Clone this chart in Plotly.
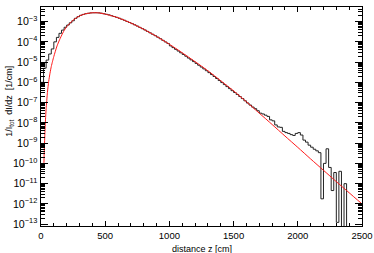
import plotly.graph_objects as go

# ---- data ----
# histogram: 20 cm bins, lower edges from 0 cm
bin_width = 20
hist_values = [
    1.00e-6, 5.01e-6, 1.26e-5, 2.51e-5, 4.47e-5, 1.00e-4, 1.66e-4, 2.63e-4, 3.80e-4, 5.25e-4,
    6.76e-4, 8.71e-4, 1.10e-3, 1.45e-3, 1.74e-3, 2.04e-3, 2.26e-3, 2.45e-3, 2.57e-3, 2.69e-3,
    2.72e-3, 2.74e-3, 2.69e-3, 2.60e-3, 2.43e-3, 2.29e-3, 2.14e-3, 1.95e-3, 1.78e-3, 1.62e-3,
    1.46e-3, 1.30e-3, 1.16e-3, 1.02e-3, 9.02e-4, 7.94e-4, 6.92e-4, 6.03e-4, 5.19e-4, 4.47e-4,
    3.85e-4, 3.27e-4, 2.79e-4, 2.37e-4, 2.02e-4, 1.70e-4, 1.43e-4, 1.19e-4, 9.89e-5, 8.32e-5,
    6.31e-5, 5.19e-5, 4.27e-5, 3.51e-5, 2.88e-5, 2.37e-5, 1.95e-5, 1.58e-5, 1.29e-5, 1.06e-5,
    8.61e-6, 7.00e-6, 5.69e-6, 4.62e-6, 3.76e-6, 3.02e-6, 2.43e-6, 1.95e-6, 1.55e-6, 1.23e-6,
    9.77e-7, 7.76e-7, 6.17e-7, 4.90e-7, 3.89e-7, 3.16e-7, 2.51e-7, 2.00e-7, 1.58e-7, 1.23e-7,
    9.55e-8, 7.59e-8, 6.03e-8, 5.01e-8, 3.98e-8, 3.02e-8, 2.75e-8, 2.40e-8, 2.09e-8, 1.41e-8,
    1.26e-8, 7.94e-9, 6.31e-9, 6.03e-9, 3.80e-9, 3.31e-9, 3.02e-9, 2.63e-9, 2.40e-9, 3.02e-9,
    3.31e-9, 2.51e-9, 1.41e-9, 1.12e-9, 7.94e-10, 6.31e-10, 5.01e-10, 4.17e-10, 3.39e-10, 1.78e-12,
    1.00e-10, 5.25e-10, 6.31e-11, 4.57e-12, 3.55e-11, 1.23e-13, 4.07e-11, 1.00e-14, 1.00e-11, 1.00e-14,
]
bin_lo = [i * bin_width for i in range(len(hist_values))]
hist_x = bin_lo + [bin_lo[-1] + bin_width]
hist_y = hist_values + [hist_values[-1]]

# fitted curve
curve_z = [22, 25, 30, 35, 40, 50, 60, 70, 80, 90, 100, 125, 150, 175, 200, 250, 300, 350,
           400, 450, 500, 600, 700, 800, 900, 1000, 1100, 1200, 1300, 1400, 1500, 1600,
           1700, 1800, 1900, 2000, 2100, 2200, 2300, 2400, 2500]
curve_val = [6.3e-11, 3.16e-10, 2.82e-9, 1.41e-8, 5.0e-8, 3.16e-7, 1.12e-6, 2.82e-6, 6.03e-6,
             1.10e-5, 1.91e-5, 6.31e-5, 1.51e-4, 3.16e-4, 5.62e-4, 1.17e-3, 1.91e-3, 2.45e-3,
             2.72e-3, 2.69e-3, 2.34e-3, 1.55e-3, 8.51e-4, 4.17e-4, 1.86e-4, 7.59e-5, 2.88e-5,
             1.05e-5, 3.72e-6, 1.20e-6, 3.80e-7, 1.10e-7, 3.02e-8, 8.32e-9, 2.24e-9, 6.17e-10,
             1.66e-10, 4.57e-11, 1.26e-11, 3.55e-12, 1.0e-12]

x_tickvals = [0, 500, 1000, 1500, 2000, 2500]
x_title = "distance z [cm]"
y_title = "1/I<sub>tot</sub>  dI/dz  [1/cm]"

font_family = "Liberation Sans, Arial, sans-serif"

fig = go.Figure()
fig.add_trace(go.Scatter(x=hist_x, y=hist_y, mode="lines", line=dict(color="#222222", width=1, shape="hv"),
                         hoverinfo="skip"))
fig.add_trace(go.Scatter(x=curve_z, y=curve_val, mode="lines",
                         line=dict(color="#ff1a1a", width=1, shape="spline", smoothing=0.6),
                         hoverinfo="skip"))

fig.update_layout(
    width=374, height=253,
    margin=dict(l=41, r=12, t=7, b=27, autoexpand=False),
    plot_bgcolor="white", paper_bgcolor="white",
    showlegend=False,
    font=dict(family=font_family, size=9, color="black"),
)
fig.update_xaxes(
    range=[0, 2500], tickvals=x_tickvals, ticks="inside", ticklen=5, tickwidth=1, tickcolor="black",
    minor=dict(dtick=100, ticks="inside", ticklen=3, tickcolor="black", showgrid=False),
    showline=True, linecolor="black", linewidth=1, mirror="allticks",
    showgrid=False, zeroline=False, tickfont=dict(size=9.5), automargin=False, ticklabelstandoff=1,
)
fig.update_yaxes(
    type="log", range=[-13.09, -2.28], dtick=1, exponentformat="power",
    ticks="inside", ticklen=7, tickwidth=1, tickcolor="black",
    minor=dict(dtick="D1", ticks="inside", ticklen=4, tickcolor="black", showgrid=False),
    showline=True, linecolor="black", linewidth=1, mirror="allticks",
    showgrid=False, zeroline=False, tickfont=dict(size=8.5), automargin=False, ticklabelstandoff=1,
)
fig.add_annotation(text=y_title, xref="paper", yref="paper", x=-0.098, y=0.57,
                   textangle=-90, showarrow=False, font=dict(size=9),
                   xanchor="center", yanchor="middle")
fig.add_annotation(text=x_title, xref="paper", yref="paper", x=0.5, y=-0.075,
                   showarrow=False, font=dict(size=9), xanchor="center", yanchor="top")

fig.write_html("out.html", config={"displayModeBar": False},
               post_script="document.body.style.margin='0';document.body.style.overflow='hidden';")
